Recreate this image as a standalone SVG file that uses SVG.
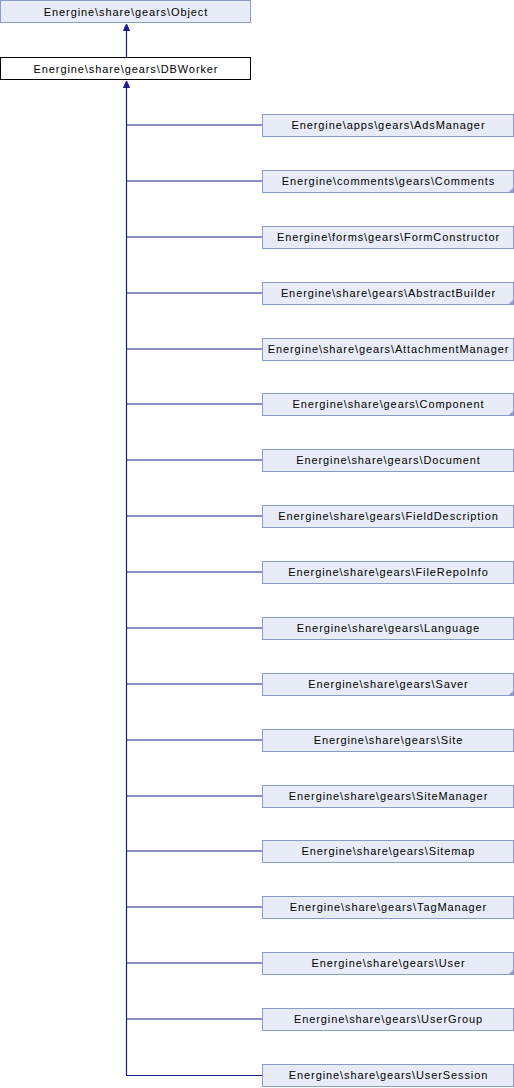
<svg xmlns="http://www.w3.org/2000/svg" width="514" height="1088" viewBox="0 0 514 1088">
<style>
.n rect{fill:#e8ecf6;stroke:#8b9bc8;stroke-width:1}
.n text,.b text{font-family:"Liberation Sans",Arial,sans-serif;font-size:11px;letter-spacing:0.9px;fill:#000;text-anchor:middle}
.b rect{fill:#fff;stroke:#000;stroke-width:1}
.c line{stroke:#1a1a8e;stroke-width:1.2;fill:none}
.c polygon{fill:#1a1a8e;stroke:#1a1a8e;stroke-width:1}
.tri{fill:#8b9bc8}
</style>
<g id="connectors" class="c">
<line x1="126.5" y1="57" x2="126.5" y2="30"/>
<polygon points="126.5,24 123.5,30.5 129.5,30.5"/>
<line x1="126.5" y1="1076" x2="126.5" y2="86"/>
<polygon points="126.5,81 123.5,87.5 129.5,87.5"/>
<line x1="126.5" y1="125" x2="262" y2="125"/>
<line x1="126.5" y1="181" x2="262" y2="181"/>
<line x1="126.5" y1="237" x2="262" y2="237"/>
<line x1="126.5" y1="293" x2="262" y2="293"/>
<line x1="126.5" y1="349" x2="262" y2="349"/>
<line x1="126.5" y1="404" x2="262" y2="404"/>
<line x1="126.5" y1="460" x2="262" y2="460"/>
<line x1="126.5" y1="516" x2="262" y2="516"/>
<line x1="126.5" y1="572" x2="262" y2="572"/>
<line x1="126.5" y1="628" x2="262" y2="628"/>
<line x1="126.5" y1="684" x2="262" y2="684"/>
<line x1="126.5" y1="740" x2="262" y2="740"/>
<line x1="126.5" y1="796" x2="262" y2="796"/>
<line x1="126.5" y1="851" x2="262" y2="851"/>
<line x1="126.5" y1="907" x2="262" y2="907"/>
<line x1="126.5" y1="963" x2="262" y2="963"/>
<line x1="126.5" y1="1019" x2="262" y2="1019"/>
<line x1="126.5" y1="1075.5" x2="262" y2="1075.5"/>
</g>
<g id="Object" class="n"><rect x="0.5" y="0.5" width="250" height="22"/><text x="126" y="15.7">Energine\share\gears\Object</text></g>
<g id="DBWorker" class="b"><rect x="0.5" y="57.5" width="250" height="22"/><text x="126" y="72.7">Energine\share\gears\DBWorker</text></g>
<g id="AdsManager" class="n"><rect x="262.5" y="114.5" width="251" height="22"/><text x="388.5" y="129.2">Energine\apps\gears\AdsManager</text></g>
<g id="Comments" class="n"><rect x="262.5" y="170.5" width="251" height="22"/><text x="388.5" y="185.2">Energine\comments\gears\Comments</text><path class="tri" d="M514,187 L514,193 L508,193 Z"/></g>
<g id="FormConstructor" class="n"><rect x="262.5" y="226.5" width="251" height="22"/><text x="388.5" y="241.2">Energine\forms\gears\FormConstructor</text></g>
<g id="AbstractBuilder" class="n"><rect x="262.5" y="282.5" width="251" height="22"/><text x="388.5" y="297.2">Energine\share\gears\AbstractBuilder</text><path class="tri" d="M514,299 L514,305 L508,305 Z"/></g>
<g id="AttachmentManager" class="n"><rect x="262.5" y="338.5" width="251" height="22"/><text x="388.5" y="353.2">Energine\share\gears\AttachmentManager</text></g>
<g id="Component" class="n"><rect x="262.5" y="393.5" width="251" height="22"/><text x="388.5" y="408.2">Energine\share\gears\Component</text><path class="tri" d="M514,410 L514,416 L508,416 Z"/></g>
<g id="Document" class="n"><rect x="262.5" y="449.5" width="251" height="22"/><text x="388.5" y="464.2">Energine\share\gears\Document</text></g>
<g id="FieldDescription" class="n"><rect x="262.5" y="505.5" width="251" height="22"/><text x="388.5" y="520.2">Energine\share\gears\FieldDescription</text></g>
<g id="FileRepoInfo" class="n"><rect x="262.5" y="561.5" width="251" height="22"/><text x="388.5" y="576.2">Energine\share\gears\FileRepoInfo</text></g>
<g id="Language" class="n"><rect x="262.5" y="617.5" width="251" height="22"/><text x="388.5" y="632.2">Energine\share\gears\Language</text></g>
<g id="Saver" class="n"><rect x="262.5" y="673.5" width="251" height="22"/><text x="388.5" y="688.2">Energine\share\gears\Saver</text><path class="tri" d="M514,690 L514,696 L508,696 Z"/></g>
<g id="Site" class="n"><rect x="262.5" y="729.5" width="251" height="22"/><text x="388.5" y="744.2">Energine\share\gears\Site</text></g>
<g id="SiteManager" class="n"><rect x="262.5" y="785.5" width="251" height="22"/><text x="388.5" y="800.2">Energine\share\gears\SiteManager</text></g>
<g id="Sitemap" class="n"><rect x="262.5" y="840.5" width="251" height="22"/><text x="388.5" y="855.2">Energine\share\gears\Sitemap</text></g>
<g id="TagManager" class="n"><rect x="262.5" y="896.5" width="251" height="22"/><text x="388.5" y="911.2">Energine\share\gears\TagManager</text></g>
<g id="User" class="n"><rect x="262.5" y="952.5" width="251" height="22"/><text x="388.5" y="967.2">Energine\share\gears\User</text><path class="tri" d="M514,969 L514,975 L508,975 Z"/></g>
<g id="UserGroup" class="n"><rect x="262.5" y="1008.5" width="251" height="22"/><text x="388.5" y="1023.2">Energine\share\gears\UserGroup</text></g>
<g id="UserSession" class="n"><rect x="262.5" y="1064.5" width="251" height="22"/><text x="388.5" y="1079.2">Energine\share\gears\UserSession</text></g>
</svg>
